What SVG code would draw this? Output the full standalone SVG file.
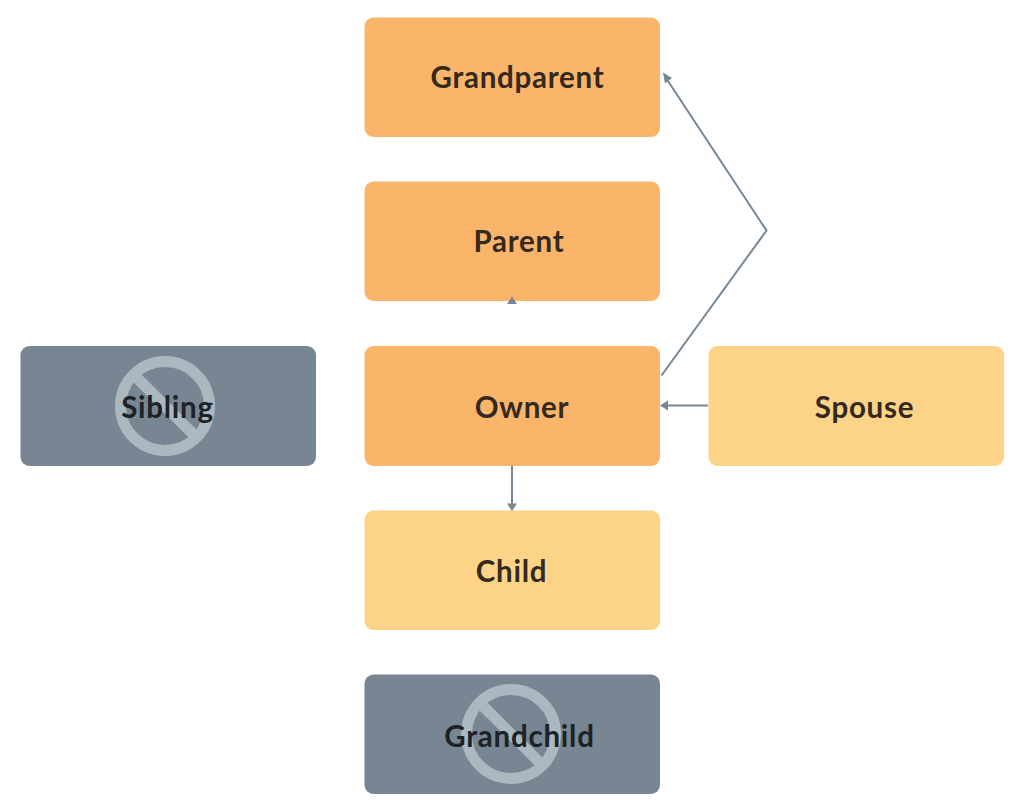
<svg xmlns="http://www.w3.org/2000/svg" width="1024" height="808" viewBox="0 0 1024 808">
<style>
.box{stroke:none}
.o{fill:#fbb56b}
.y{fill:#fdd388}
.g{fill:#778692}
text{font-family:"Lato","Open Sans","Liberation Sans",sans-serif;font-size:29.500px;font-weight:700;letter-spacing:.75px;fill:#33291e;text-anchor:middle}
.dark{fill:#1d2226}
.no{fill:none;stroke:#abb8c0;stroke-width:11}
.c{fill:none;stroke:#778692;stroke-width:2}
.a{fill:#778692}
</style>
<rect width="1024" height="808" fill="#fff"/>
<g id="grandparent"><rect class="box o" x="364.500" y="17.500" width="295.500" height="119.500" rx="9"/><text x="517.500" y="88">Grandparent</text></g>
<g id="parent"><rect class="box o" x="364.500" y="181.500" width="295.500" height="119.500" rx="9"/><text x="519" y="252">Parent</text></g>
<g id="owner"><rect class="box o" x="364.500" y="346" width="295.500" height="120" rx="9"/><text x="522" y="418">Owner</text></g>
<g id="spouse"><rect class="box y" x="708.500" y="346" width="295.500" height="120" rx="9"/><text x="864.500" y="418">Spouse</text></g>
<g id="child"><rect class="box y" x="364.500" y="510.500" width="295.500" height="119.500" rx="9"/><text x="511.500" y="582">Child</text></g>
<g id="sibling"><rect class="box g" x="20.500" y="346" width="295.500" height="120" rx="9"/><circle class="no" cx="165" cy="406" r="44.500"/><line class="no" x1="134" y1="375" x2="196" y2="437"/><text class="dark" x="167.500" y="418">Sibling</text></g>
<g id="grandchild"><rect class="box g" x="364.500" y="674.500" width="295.500" height="119.500" rx="9"/><circle class="no" cx="511" cy="734" r="44.500"/><line class="no" x1="480" y1="703" x2="542" y2="765"/><text class="dark" x="519.500" y="747">Grandchild</text></g>
<g id="connectors">
<polygon class="a" points="512,296.500 517,304 507,304"/>
<path class="c" d="M661.500 375.500L766.500 230.500L666 78"/>
<polygon class="a" points="663,72.500 672,78 665,83.500"/>
<path class="c" d="M708 405.500H664"/>
<polygon class="a" points="660,405.500 668,400.500 668,410.500"/>
<path class="c" d="M512 466V506"/>
<polygon class="a" points="512,511 507,503.500 517,503.500"/>
</g>
</svg>
